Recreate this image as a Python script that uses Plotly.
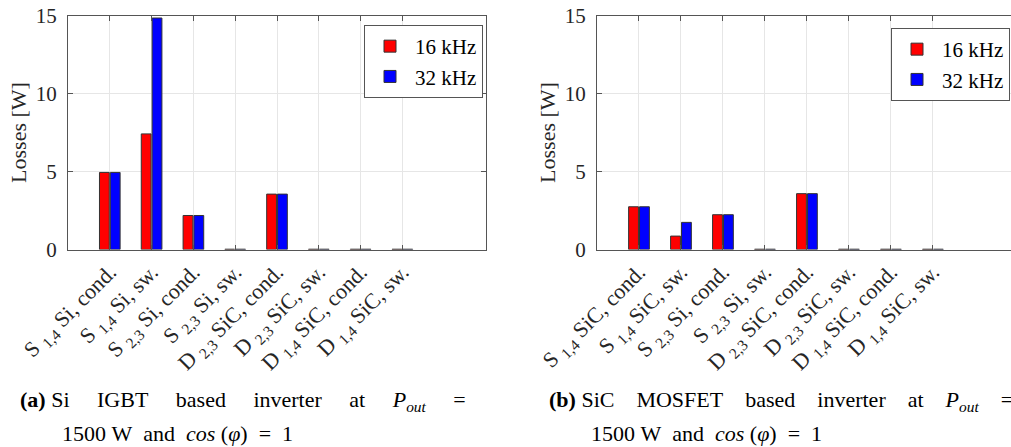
import plotly.graph_objects as go

categories_a = [
    "S <sub>1,4</sub> Si, cond.", "S <sub>1,4</sub> Si, sw.",
    "S <sub>2,3</sub> Si, cond.", "S <sub>2,3</sub> Si, sw.",
    "D <sub>2,3</sub> SiC, cond.", "D <sub>2,3</sub> SiC, sw.",
    "D <sub>1,4</sub> SiC, cond.", "D <sub>1,4</sub> SiC, sw.",
]
categories_b = [
    "S <sub>1,4</sub> SiC, cond.", "S <sub>1,4</sub> SiC, sw.",
    "S <sub>2,3</sub> Si, cond.", "S <sub>2,3</sub> Si, sw.",
    "D <sub>2,3</sub> SiC, cond.", "D <sub>2,3</sub> SiC, sw.",
    "D <sub>1,4</sub> SiC, cond.", "D <sub>1,4</sub> SiC, sw.",
]
positions = [1, 2, 3, 4, 5, 6, 7, 8]
a_16k = [4.94, 7.41, 2.18, 0.02, 3.55, 0.02, 0.02, 0.02]
a_32k = [4.94, 14.84, 2.18, 0.02, 3.55, 0.02, 0.02, 0.02]
b_16k = [2.74, 0.86, 2.23, 0.02, 3.58, 0.02, 0.02, 0.02]
b_32k = [2.74, 1.74, 2.23, 0.02, 3.58, 0.02, 0.02, 0.02]
y_ticks = [0, 5, 10, 15]
series_names = ["16 kHz", "32 kHz"]
colors = ["#ff0000", "#0000ff"]

FONT = "Liberation Serif, Times New Roman, serif"
W, H = 1011, 447

fig = go.Figure()
for name, vals, col in zip(series_names, [a_16k, a_32k], colors):
    fig.add_trace(go.Bar(x=positions, y=vals, name=name, marker_color=col,
                         marker_line=dict(color="#333333", width=1),
                         xaxis="x", yaxis="y", legend="legend"))
for name, vals, col in zip(series_names, [b_16k, b_32k], colors):
    fig.add_trace(go.Bar(x=positions, y=vals, name=name, marker_color=col,
                         marker_line=dict(color="#333333", width=1),
                         xaxis="x2", yaxis="y2", legend="legend2"))

axis_common = dict(showgrid=True, gridcolor="#e6e6e6", gridwidth=1,
                   linecolor="#555555", linewidth=1, ticks="inside", ticklen=5,
                   tickcolor="#555555", zeroline=False, automargin=False)
xfont = dict(family=FONT, size=22, color="#262626")
yfont = dict(family=FONT, size=21, color="#262626")
title_font = dict(family=FONT, size=22, color="#262626")

fig.update_layout(
    width=W, height=H, margin=dict(l=0, r=0, t=0, b=0, autoexpand=False),
    paper_bgcolor="white", plot_bgcolor="white",
    barmode="group", bargap=0.48, bargroupgap=0.1,
    font=dict(family=FONT, size=20, color="#262626"),
    xaxis=dict(axis_common, domain=[68 / W, 486 / W], range=[0, 10],
               tickmode="array", tickvals=positions, ticktext=categories_a,
               tickfont=xfont, tickangle=-45, showline=True, mirror="ticks",
               anchor="y"),
    yaxis=dict(axis_common, domain=[1 - 249.5 / H, 1 - 15.5 / H], range=[0, 15],
               tickmode="array", tickvals=y_ticks, tickfont=yfont,
               showline=True, mirror="ticks", anchor="x", ticklabelstandoff=6,
               title=dict(text="Losses [W]", standoff=3, font=title_font)),
    xaxis2=dict(axis_common, domain=[597 / W, 1.0], range=[0, 9.86],
                tickmode="array", tickvals=positions, ticktext=categories_b,
                tickfont=xfont, tickangle=-45, showline=True, mirror="ticks",
                anchor="y2"),
    yaxis2=dict(axis_common, domain=[1 - 249.5 / H, 1 - 15.5 / H], range=[0, 15],
                tickmode="array", tickvals=y_ticks, tickfont=yfont,
                showline=True, mirror=False, anchor="x2", ticklabelstandoff=6,
                title=dict(text="Losses [W]", standoff=3, font=title_font)),
    legend=dict(x=483 / W, y=1 - 25 / H, xanchor="right", yanchor="top",
                bgcolor="white", bordercolor="#555555", borderwidth=1,
                font=dict(family=FONT, size=21, color="black"),
                tracegroupgap=0, itemwidth=40),
    legend2=dict(x=1010 / W, y=1 - 28 / H, xanchor="right", yanchor="top",
                 bgcolor="white", bordercolor="#555555", borderwidth=1,
                 font=dict(family=FONT, size=21, color="black"),
                 tracegroupgap=0, itemwidth=40),
)

g4 = "&nbsp;" * 4 + " "
g3 = "&nbsp;" * 3 + " "
captions = [
    ("<b>(a)</b> Si" + g4 + "IGBT" + g4 + "based" + g4 + "inverter" + g4 + "at" + g4
     + "<i>P<sub>out</sub></i>" + g4 + "=", 18, 401),
    ("1500&nbsp;W&nbsp; and&nbsp; <i>cos</i>&nbsp;(<i>φ</i>)&nbsp; =&nbsp; 1", 60, 433),
    ("<b>(b)</b> SiC" + g3 + "MOSFET" + g3 + "based" + g3 + "inverter" + g3 + "at" + g3
     + "<i>P<sub>out</sub></i>" + g3 + "=", 547, 401),
    ("1500&nbsp;W&nbsp; and&nbsp; <i>cos</i>&nbsp;(<i>φ</i>)&nbsp; =&nbsp; 1", 589, 433),
]
for text, px, py in captions:
    fig.add_annotation(text=text, xref="paper", yref="paper",
                       x=px / W, y=1 - py / H, xanchor="left", yanchor="middle",
                       showarrow=False, font=dict(family=FONT, size=22, color="black"))

fig.write_html("out.html")
